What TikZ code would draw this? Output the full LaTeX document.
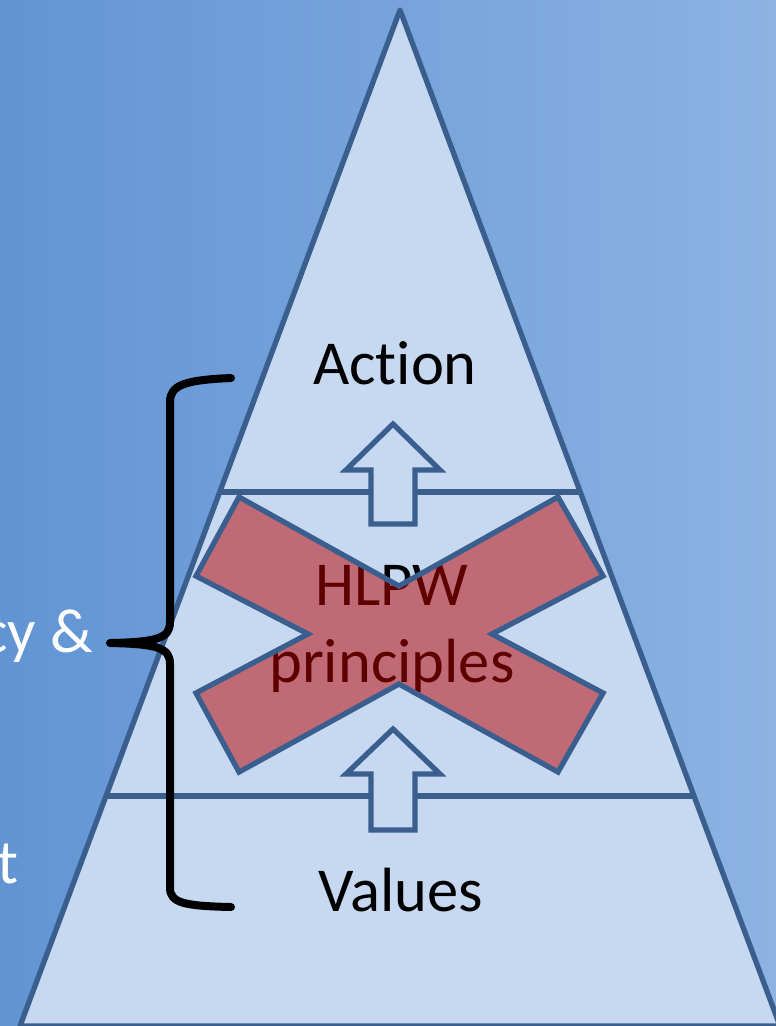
\documentclass[tikz,border=0pt]{standalone}
\usepackage{fontspec}
\setmainfont[Ligatures={NoCommon}]{Carlito}
\definecolor{bgleft}{RGB}{98,148,212}
\definecolor{bgright}{RGB}{140,179,226}
\definecolor{tri}{RGB}{198,217,241}
\definecolor{edge}{RGB}{58,95,142}
\definecolor{xred}{RGB}{188,0,0}
\tikzset{
  outline/.style={draw=edge, line width=5.3pt, line join=round},
  arrowshape/.style={outline, fill=tri, line join=miter},
  bigtext/.style={inner sep=0pt, font=\fontsize{62.5}{76}\selectfont},
  whitetext/.style={bigtext, text=white},
  bracestyle/.style={draw=black, line width=8pt, line cap=round, line join=round}
}
\begin{document}
\begin{tikzpicture}[x=1pt,y=-1pt]
\useasboundingbox (0,0) rectangle (776,1026);
\clip (0,0) rectangle (776,1026);
% background
\shade[left color=bgleft, right color=bgright] (0,0) rectangle (776,1026);
% pyramid
\filldraw[outline, fill=tri] (400,10) -- (20,1026) -- (780,1026) -- cycle;
\coordinate (l1a) at (220,492);
\coordinate (l1b) at (581,492);
\coordinate (l2a) at (106,796);
\coordinate (l2b) at (694,796);
\draw[outline] (l1a) -- (l1b);
\draw[outline] (l2a) -- (l2b);
% up arrows
\draw[arrowshape] (393,424) -- (440,470) -- (415,470) -- (415,524) -- (371,524) -- (371,470) -- (346,470) -- cycle;
\draw[arrowshape] (393,729) -- (440,774) -- (415,774) -- (415,830) -- (371,830) -- (371,774) -- (346,774) -- cycle;
% HLPW text under the X
\node[bigtext, anchor=base] (hlpw) at (392,605) {HLPW};
\node[bigtext, anchor=base] (princ) at (392,682) {principles};
% red X
\path[draw=edge, line width=5.3pt, line join=miter, fill=xred, fill opacity=0.51]
  (239,497) -- (399,586) -- (558,497) -- (603,576) -- (492,634) -- (603,693)
  -- (558,772) -- (399,684) -- (239,772) -- (196,693) -- (308,634) -- (196,576) -- cycle;
% labels
\node[bigtext, anchor=base] (action) at (395,384) {Action};
\node[bigtext, anchor=base] (values) at (401,911) {Values};
% left texts
\node[whitetext, anchor=base east] (cy) at (93,652) {cy \&};
\node[whitetext, anchor=base east] (tt) at (19,883) {t};
% brace
\draw[bracestyle] (231,378) .. controls (185,380) and (170,385) .. (170,402)
  -- (170,622) .. controls (170,638) and (158,642) .. (110,643)
  .. controls (158,644) and (170,648) .. (170,664)
  -- (170,888) .. controls (170,903) and (185,906) .. (231,907);
\end{tikzpicture}
\end{document}
